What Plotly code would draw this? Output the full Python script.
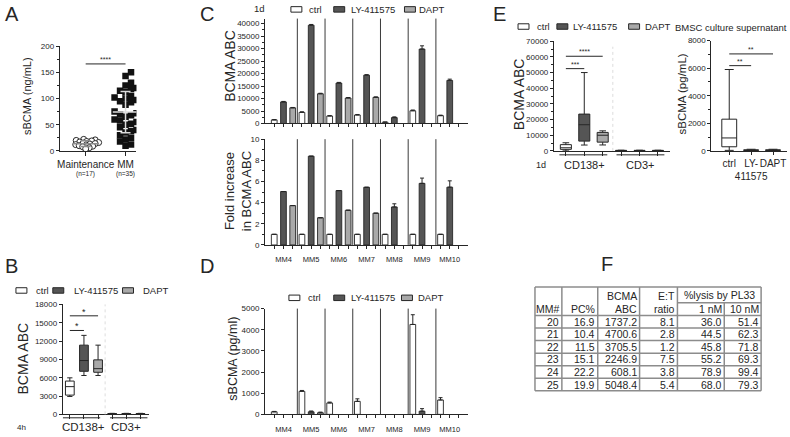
import plotly.graph_objects as go

W, H = 790, 437
FONT = "Liberation Sans, Arial, Helvetica, sans-serif"
INK = "#262626"
TREAT = ["ctrl", "LY-411575", "DAPT"]
TCOL = {"ctrl": "#ffffff", "LY-411575": "#555555", "DAPT": "#a9a9a9"}

# ---------------- data ----------------
# A: serum sBCMA (ng/mL)
a_groups = ["Maintenance", "MM"]
a_counts = ["(n=17)", "(n=35)"]
a_maint = [22, 21, 20, 19, 18, 17, 16, 15, 14, 13, 12, 11, 10, 9, 8, 6, 4]
a_mm = [150, 143, 130, 125, 120, 118, 115, 112, 105, 102, 100, 97, 95, 93, 88,
        75, 72, 70, 68, 65, 60, 58, 55, 52, 50, 45, 40, 38, 35, 30, 25, 22, 18, 12, 10]
a_sig = [("Maintenance", "MM", 166, "****")]

# B: BCMA ABC, 4h
b_groups = ["CD138+", "CD3+"]
b_lo = {"ctrl": [2930, 40], "LY-411575": [6360, 40], "DAPT": [6360, 40]}
b_q1 = {"ctrl": [3150, 70], "LY-411575": [7050, 70], "DAPT": [6890, 70]}
b_med = {"ctrl": [4540, 100], "LY-411575": [8810, 100], "DAPT": [7480, 100]}
b_q3 = {"ctrl": [5450, 130], "LY-411575": [11330, 130], "DAPT": [8920, 130]}
b_hi = {"ctrl": [5980, 170], "LY-411575": [12930, 170], "DAPT": [11330, 170]}
b_sig = [("ctrl", "LY-411575", 13730, "*"), ("ctrl", "DAPT", 16130, "*")]

# C: BCMA ABC and fold increase, 1d
mm_ids = ["MM4", "MM5", "MM6", "MM7", "MM8", "MM9", "MM10"]
c_abc = {"ctrl": [1440, 4440, 3000, 3400, 520, 5100, 3140],
         "LY-411575": [8630, 39350, 16200, 19350, 2350, 29800, 17250],
         "DAPT": [6270, 11900, 10200, 10460, None, None, None]}
c_abc_err = {"ctrl": [120, 250, 150, 200, 60, 300, 200],
             "LY-411575": [200, 300, 250, 200, 300, 1300, 500],
             "DAPT": [150, 200, 200, 200, 0, 0, 0]}
c_fold = {"ctrl": [1, 1, 1, 1, 1, 1, 1],
          "LY-411575": [5.05, 8.39, 5.14, 5.45, 3.59, 5.82, 5.46],
          "DAPT": [3.72, 2.57, 3.28, 3.0, None, None, None]}
c_fold_err = {"ctrl": [0, 0, 0, 0, 0, 0, 0],
              "LY-411575": [0, 0, 0, 0, 0.3, 0.5, 0.6],
              "DAPT": [0, 0, 0, 0, 0, 0, 0]}

# D: sBCMA (pg/ml)
d_sb = {"ctrl": [120, 1090, 540, 615, None, 4250, 680],
        "LY-411575": [None, 120, None, None, None, 150, None],
        "DAPT": [None, 77, None, None, None, None, None]}
d_sb_err = {"ctrl": [20, 40, 40, 120, 0, 460, 110],
            "LY-411575": [0, 40, 0, 0, 0, 120, 0],
            "DAPT": [0, 30, 0, 0, 0, 0, 0]}

# E left: BCMA ABC, 1d
e_groups = ["CD138+", "CD3+"]
e_lo = {"ctrl": [0, 50], "LY-411575": [3750, 50], "DAPT": [3800, 50]}
e_q1 = {"ctrl": [1000, 150], "LY-411575": [6250, 150], "DAPT": [5600, 150]}
e_med = {"ctrl": [2000, 250], "LY-411575": [16700, 250], "DAPT": [10000, 250]}
e_q3 = {"ctrl": [4000, 350], "LY-411575": [23500, 350], "DAPT": [11800, 350]}
e_hi = {"ctrl": [5200, 450], "LY-411575": [50000, 450], "DAPT": [12800, 450]}
e_sig = [("ctrl", "LY-411575", 52500, "***"), ("ctrl", "DAPT", 60400, "****")]

# E right: BMSC culture supernatant sBCMA (pg/mL)
er_cats = ["ctrl", "LY-<br>411575", "DAPT"]
er_lo = [40, 10, 10]
er_q1 = [300, 30, 30]
er_med = [940, 50, 50]
er_q3 = [2300, 80, 80]
er_hi = [5900, 120, 120]
er_sig = [(0, 1, 6180, "**"), (0, 2, 7030, "**")]

# F: table
tbl_mm = [20, 21, 22, 23, 24, 25]
tbl_pc = [16.9, 10.4, 11.5, 15.1, 22.2, 19.9]
tbl_abc = [1737.2, 4700.6, 3705.5, 2246.9, 608.1, 5048.4]
tbl_et = [8.1, 2.8, 1.2, 7.5, 3.8, 5.4]
tbl_l1 = [36.0, 44.5, 45.8, 55.2, 78.9, 68.0]
tbl_l10 = [51.4, 62.3, 71.8, 69.3, 99.4, 79.3]

# ---------------- helpers ----------------
def fx(x):
    return x / W


def fy(y):
    return 1 - y / H


shapes, annos = [], []


def txt(x, y, s, size=10, xanchor="center", yanchor="middle", angle=0,
        xref="paper", yref="paper", color=INK, yshift=0):
    annos.append(dict(
        x=fx(x) if xref == "paper" else x,
        y=fy(y) if yref == "paper" else y,
        text=s, showarrow=False, xref=xref, yref=yref,
        xanchor=xanchor, yanchor=yanchor, textangle=angle, yshift=yshift,
        font=dict(size=size, family=FONT, color=color), borderpad=0))


def line(x0, y0, x1, y1, xref="paper", yref="paper", color=INK, width=1, dash="solid"):
    shapes.append(dict(
        type="line", xref=xref, yref=yref,
        x0=fx(x0) if xref == "paper" else x0, x1=fx(x1) if xref == "paper" else x1,
        y0=fy(y0) if yref == "paper" else y0, y1=fy(y1) if yref == "paper" else y1,
        line=dict(color=color, width=width, dash=dash)))


def legend(items, yc):
    for bx, tx, t in items:
        shapes.append(dict(type="rect", xref="paper", yref="paper",
                           x0=fx(bx), x1=fx(bx + 11), y0=fy(yc + 2.8), y1=fy(yc - 2.8),
                           fillcolor=TCOL[t], line=dict(color=INK, width=1)))
        txt(tx, yc, t, size=9.5, xanchor="left")


def ax(**kw):
    d = dict(showline=True, linecolor=INK, linewidth=1, ticks="outside", tickcolor=INK,
             ticklen=3, tickwidth=1, showgrid=False, zeroline=False, fixedrange=True,
             tickformat="d", tickangle=0,
             tickfont=dict(size=8, color=INK, family=FONT))
    d.update(kw)
    return d


def beeswarm(vals, ypx, sep, metric):
    order = sorted(range(len(vals)), key=lambda i: vals[i])
    placed, off = [], [0.0] * len(vals)
    for i in order:
        y = vals[i] * ypx
        k, found = 0, None
        while found is None:
            cands = [0.0] if k == 0 else [k * 0.5, -k * 0.5]
            for c in cands:
                ok = True
                for (qx, qy) in placed:
                    dx, dy = abs(c - qx), abs(y - qy)
                    d = max(dx, dy) if metric == "cheb" else (dx * dx + dy * dy) ** 0.5
                    if d < sep:
                        ok = False
                        break
                if ok:
                    found = c
                    break
            k += 1
        placed.append((found, y))
        off[i] = found
    return off


fig = go.Figure()

# ---------------- Panel A ----------------
A_XPX = 40.0      # px per category unit
A_YPX = 107 / 200  # px per ng/mL
a_pos = {g: i + 1 for i, g in enumerate(a_groups)}
off_m = beeswarm(a_maint, A_YPX, 3.6, "euc")
off_s = beeswarm(a_mm, A_YPX, 5.4, "cheb")
fig.add_trace(go.Scatter(x=[a_pos["Maintenance"] + o / A_XPX for o in off_m], y=a_maint,
                         mode="markers", xaxis="x", yaxis="y", hoverinfo="skip",
                         marker=dict(symbol="circle", size=6, color="white",
                                     line=dict(color=INK, width=1))))
fig.add_trace(go.Scatter(x=[a_pos["MM"] + o / A_XPX for o in off_s], y=a_mm,
                         mode="markers", xaxis="x", yaxis="y", hoverinfo="skip",
                         marker=dict(symbol="square", size=6.5, color="#111111",
                                     line=dict(color="#111111", width=0))))
for g, vals, col in [("Maintenance", a_maint, "#8c8c8c"), ("MM", a_mm, "#dcdcdc")]:
    n = len(vals)
    mean = sum(vals) / n
    sd = (sum((v - mean) ** 2 for v in vals) / (n - 1)) ** 0.5
    p = a_pos[g]
    fig.add_trace(go.Scatter(x=[p - 0.32, p + 0.32], y=[mean, mean], mode="lines",
                             xaxis="x", yaxis="y", hoverinfo="skip",
                             line=dict(color=col, width=1.5)))
    fig.add_trace(go.Scatter(x=[p], y=[mean], mode="markers", xaxis="x", yaxis="y",
                             hoverinfo="skip", marker=dict(size=1, color=col),
                             error_y=dict(type="data", array=[sd], color=col,
                                          thickness=1.5, width=5)))
for g0, g1, yv, s in a_sig:
    line(a_pos[g0], yv, a_pos[g1], yv, xref="x", yref="y")
    txt((a_pos[g0] + a_pos[g1]) / 2, yv, s, size=7, xref="x", yref="y", yanchor="bottom")
for g, c in zip(a_groups, a_counts):
    txt(a_pos[g], 174, c, size=6.5, xref="x")
txt(24, 94, "sBCMA (ng/mL)", size=11, angle=-90)

# ---------------- Panel B ----------------
for ti, t in enumerate(TREAT):
    fig.add_trace(go.Box(x=[gi * 3 + ti for gi in range(len(b_groups))],
                         q1=b_q1[t], median=b_med[t], q3=b_q3[t],
                         lowerfence=b_lo[t], upperfence=b_hi[t],
                         xaxis="x2", yaxis="y2", fillcolor=TCOL[t],
                         line=dict(color=INK, width=1), width=0.62, whiskerwidth=0.6,
                         boxpoints=False, hoverinfo="skip"))
for t0, t1, yv, s in b_sig:
    x0, x1 = TREAT.index(t0), TREAT.index(t1)
    line(x0, yv, x1, yv, xref="x2", yref="y2")
    txt((x0 + x1) / 2, yv, s, size=9, xref="x2", yref="y2", yanchor="bottom", yshift=-2)
line(2.5, 0, 2.5, 1, xref="x2", yref="y2 domain", color="#dddddd", width=1, dash="dot")
line(-0.5, 422.5, 2.15, 422.5, xref="x2")
line(2.85, 422.5, 5.5, 422.5, xref="x2")
for gi, g in enumerate(b_groups):
    txt(gi * 3 + 1, 432, g, size=11.5, xref="x2")
txt(19, 432, "4h", size=8)
txt(20, 362, "BCMA ABC", size=14, angle=-90)
legend([(13, 32, "ctrl"), (50, 70, "LY-411575"), (120, 140, "DAPT")], 292.5)

# ---------------- Panel C & D (bars) ----------------
def bars(data, errs, xa, ya):
    for ti, t in enumerate(TREAT):
        pos = [gi * 3 + ti for gi in range(len(mm_ids))]
        fig.add_trace(go.Bar(x=pos, y=data[t], width=0.62, xaxis=xa, yaxis=ya,
                             marker=dict(color=TCOL[t], line=dict(color=INK, width=0.9)),
                             error_y=dict(type="data", array=errs[t],
                                          arrayminus=[0] * len(mm_ids), symmetric=False,
                                          color=INK, thickness=1, width=2),
                             hoverinfo="skip"))
    for k in range(1, len(mm_ids)):
        line(k * 3 - 0.5, 0, k * 3 - 0.5, 1, xref=xa, yref=ya + " domain",
             color="#3a3a3a", width=1)


bars(c_abc, c_abc_err, "x3", "y3")
bars(c_fold, c_fold_err, "x4", "y4")
bars(d_sb, d_sb_err, "x5", "y5")
txt(228, 63, "BCMA ABC", size=14, angle=-90)
txt(236, 191, "Fold increase<br>in BCMA ABC", size=13, angle=-90)
txt(230, 362, "sBCMA (pg/ml)", size=12.5, angle=-90)
txt(257, 5, "1d", size=9.5)
legend([(289, 306, "ctrl"), (332, 348, "LY-411575"), (403, 417, "DAPT")], 5.5)
legend([(287, 305, "ctrl"), (332, 348, "LY-411575"), (400, 416, "DAPT")], 300)

# ---------------- Panel E left ----------------
for ti, t in enumerate(TREAT):
    fig.add_trace(go.Box(x=[gi * 3 + ti for gi in range(len(e_groups))],
                         q1=e_q1[t], median=e_med[t], q3=e_q3[t],
                         lowerfence=e_lo[t], upperfence=e_hi[t],
                         xaxis="x6", yaxis="y6", fillcolor=TCOL[t],
                         line=dict(color=INK, width=1), width=0.6, whiskerwidth=0.6,
                         boxpoints=False, hoverinfo="skip"))
for t0, t1, yv, s in e_sig:
    x0, x1 = TREAT.index(t0), TREAT.index(t1)
    line(x0, yv, x1, yv, xref="x6", yref="y6")
    txt((x0 + x1) / 2, yv, s, size=7, xref="x6", yref="y6", yanchor="bottom")
line(2.55, 0, 2.55, 0.95, xref="x6", yref="y6 domain", color="#dddddd", width=1, dash="dot")
line(-0.35, 154, 2.25, 154, xref="x6")
line(2.75, 154, 5.35, 154, xref="x6")
for gi, g in enumerate(e_groups):
    txt(gi * 3 + 1, 164, g, size=11, xref="x6")
txt(540, 164, "1d", size=9)
txt(518, 92, "BCMA ABC", size=14, angle=-90)
legend([(517, 535, "ctrl"), (556, 571, "LY-411575"), (628, 643, "DAPT")], 23)

# ---------------- Panel E right ----------------
fig.add_trace(go.Box(x=[0, 1, 2], q1=er_q1, median=er_med, q3=er_q3,
                     lowerfence=er_lo, upperfence=er_hi, xaxis="x7", yaxis="y7",
                     fillcolor="white", line=dict(color=INK, width=1), width=0.68,
                     whiskerwidth=0.6, boxpoints=False, hoverinfo="skip"))
for x0, x1, yv, s in er_sig:
    line(x0, yv, x1, yv, xref="x7", yref="y7")
    txt((x0 + x1) / 2, yv, s, size=7, xref="x7", yref="y7", yanchor="bottom")
txt(731, 24, "BMSC culture supernatant", size=9.5)
txt(682, 92, "sBCMA (pg/mL)", size=11.5, angle=-90)

# ---------------- Panel F (table) ----------------
cols = [534, 561, 597, 639, 677, 724, 761]
t_top, t_sub, t_head, t_bot = 289, 305, 318, 395
TL = "#8c8c8c"
nrow = len(tbl_mm)
rh = (t_bot - t_head) / nrow
line(cols[0], t_top, cols[-1], t_top, color=TL, width=1.5)
line(cols[4], t_sub, cols[-1], t_sub, color=TL, width=1.5)
line(cols[0], t_head, cols[-1], t_head, color=TL, width=1.5)
for r in range(1, nrow + 1):
    line(cols[0], t_head + r * rh, cols[-1], t_head + r * rh, color=TL, width=1.5)
for i, c in enumerate(cols):
    line(c, t_sub if i == 5 else t_top, c, t_bot, color=TL, width=1.5)
TF = 10.5
txt(cols[3] - 1.5, 298, "BCMA", size=TF, xanchor="right")
txt(cols[4] - 1.5, 298, "E:T", size=TF, xanchor="right")
txt((cols[4] + cols[6]) / 2, 297.5, "%lysis by PL33", size=TF)
for ci, h in enumerate(["MM#", "PC%", "ABC", "ratio", "1 nM", "10 nM"]):
    txt(cols[ci + 1] - 1.5, 311.5, h, size=TF, xanchor="right")
for r in range(nrow):
    yc = t_head + (r + 0.5) * rh
    row = [str(tbl_mm[r]), f"{tbl_pc[r]:.1f}", f"{tbl_abc[r]:.1f}", f"{tbl_et[r]:.1f}",
           f"{tbl_l1[r]:.1f}", f"{tbl_l10[r]:.1f}"]
    for ci, s in enumerate(row):
        txt(cols[ci + 1] - 1.5, yc, s, size=TF, xanchor="right")

# ---------------- panel letters ----------------
for L, x, y in [("A", 9, 10), ("B", 9, 267.5), ("C", 205, 10.5), ("D", 205, 267.5),
                ("E", 498, 10), ("F", 606, 265)]:
    txt(x, y, L, size=20)

# ---------------- layout ----------------
pos_all = list(range(len(mm_ids) * 3))
mm_ticktext = [mm_ids[p // 3] if p % 3 == 1 else "" for p in pos_all]
bar_x = dict(domain=[fx(263), fx(467)], range=[-1, 21], tickvals=pos_all)

fig.update_layout(
    width=W, height=H, autosize=False, margin=dict(l=0, r=0, t=0, b=0),
    paper_bgcolor="white", plot_bgcolor="rgba(0,0,0,0)", showlegend=False,
    barmode="overlay", boxmode="overlay", font=dict(family=FONT, color=INK),
    shapes=shapes, annotations=annos,
    xaxis=ax(domain=[fx(57), fx(134)], range=[0.35, 2.275], tickvals=[1, 2],
             ticktext=a_groups, ticklen=4, anchor="y", ticklabelstandoff=0,
             tickfont=dict(size=10, color=INK, family=FONT)),
    yaxis=ax(domain=[fy(150), fy(43)], range=[0, 200], dtick=50, anchor="x",
             minor=dict(dtick=25, ticks="outside", ticklen=2, tickcolor=INK)),
    xaxis2=ax(domain=[fx(60), fx(147)], range=[-0.5, 5.64], tickvals=list(range(6)),
              showticklabels=False, ticklen=3.5, anchor="y2"),
    yaxis2=ax(domain=[fy(419), fy(306.7)], range=[0, 18000], dtick=3000, anchor="x2"),
    xaxis3=ax(**bar_x, showticklabels=False, anchor="y3"),
    yaxis3=ax(domain=[fy(122), fy(14.9)], range=[0, 42000], dtick=5000, anchor="x3",
              minor=dict(dtick=2500, ticks="outside", ticklen=2, tickcolor=INK)),
    xaxis4=ax(**bar_x, ticktext=mm_ticktext, anchor="y4", ticklabelstandoff=4,
              tickfont=dict(size=7.5, color=INK, family=FONT)),
    yaxis4=ax(domain=[fy(246), fy(138)], range=[0, 10], dtick=2, anchor="x4",
              minor=dict(dtick=1, ticks="outside", ticklen=2, tickcolor=INK)),
    xaxis5=ax(**bar_x, ticktext=mm_ticktext, anchor="y5", ticklabelstandoff=5,
              tickfont=dict(size=7.5, color=INK, family=FONT)),
    yaxis5=ax(domain=[fy(419), fy(311)], range=[0, 5000], dtick=1000, anchor="x5"),
    xaxis6=ax(domain=[fx(553), fx(670)], range=[-0.65, 5.68], tickvals=list(range(6)),
              showticklabels=False, ticklen=4, anchor="y6"),
    yaxis6=ax(domain=[fy(150), fy(38)], range=[0, 70000], dtick=10000, anchor="x6",
              minor=dict(dtick=5000, ticks="outside", ticklen=2, tickcolor=INK)),
    xaxis7=ax(domain=[fx(711), fx(787)], range=[-0.82, 2.64], tickvals=[0, 1, 2],
              ticktext=er_cats, anchor="y7",
              tickfont=dict(size=10, color=INK, family=FONT)),
    yaxis7=ax(domain=[fy(150), fy(37.3)], range=[0, 8000], dtick=2000, anchor="x7",
              minor=dict(dtick=1000, ticks="outside", ticklen=2, tickcolor=INK)),
)

fig.write_html("out.html", config={"displayModeBar": False},
               post_script="document.body.style.margin='0px';"
                           "document.body.style.overflow='hidden';")
